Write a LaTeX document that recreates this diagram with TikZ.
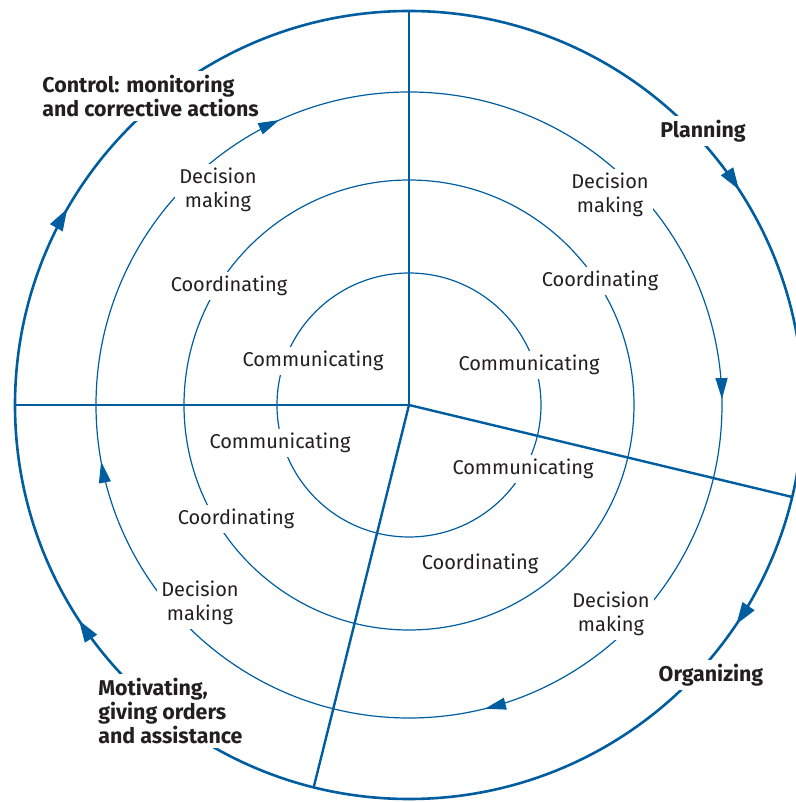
\documentclass[tikz,border=0pt]{standalone}
\usepackage{fontspec}
\setmainfont{Fira Sans}
\usepackage{xcolor}
\usepackage{tikz}
\usetikzlibrary{arrows.meta,decorations.markings}

\definecolor{ringblue}{RGB}{0,94,160}
\definecolor{inkgray}{RGB}{35,31,32}

\tikzset{
    ring/.style={draw=ringblue, line width=0.6pt},
    outerring/.style={draw=ringblue, line width=1.3pt},
    spoke/.style={draw=ringblue, line width=1.2pt},
    activity/.style={fill=white, inner sep=2pt, text=inkgray, align=center,
        font=\fontsize{10}{12}\selectfont},
    stage/.style={fill=white, inner sep=2pt, text=inkgray, align=left,
        font=\fontsize{10.7}{11.9}\selectfont\bfseries},
    bigtip/.tip={Triangle[length=11pt, width=7pt]},
    smalltip/.tip={Triangle[length=10.5pt, width=6pt]},
}

\begin{document}
\begin{tikzpicture}[x=0.5pt, y=0.5pt]
    \useasboundingbox (-409,-397) rectangle (387,405);

    % rings, arrows run clockwise
    \draw [outerring, postaction={decorate}, decoration={markings,
        mark=at position 0.092 with {\arrowreversed{bigtip}},
        mark=at position 0.417 with {\arrowreversed{bigtip}},
        mark=at position 0.592 with {\arrowreversed{bigtip}},
        mark=at position 0.906 with {\arrowreversed{bigtip}}}]
        (0,0) circle (394);
    \draw [ring, postaction={decorate}, decoration={markings,
        mark=at position 0.003 with {\arrowreversed{smalltip}},
        mark=at position 0.318 with {\arrowreversed{smalltip}},
        mark=at position 0.529 with {\arrowreversed{smalltip}},
        mark=at position 0.789 with {\arrowreversed{smalltip}}}]
        (0,0) circle (313);
    \draw [ring] (0,0) circle (225);
    \draw [ring] (0,0) circle (132);

    % spokes
    \coordinate (hub) at (0,0);
    \coordinate (north) at (90:394);
    \coordinate (west) at (180:394);
    \coordinate (east) at (-13.5:394);
    \coordinate (south) at (-104:394);
    \draw [spoke] (hub) -- (north);
    \draw [spoke] (hub) -- (west);
    \draw [spoke] (hub) -- (east);
    \draw [spoke] (hub) -- (south);

    % management functions
    \node [stage, anchor=west] (control) at (-371,309) {Control: monitoring\\and corrective actions};
    \node [stage] (planning) at (294,274) {Planning};
    \node [stage] (organizing) at (302,-270) {Organizing};
    \node [stage, anchor=west] (motivating) at (-315,-306) {Motivating,\\giving orders\\and assistance};

    % decision making ring
    \node [activity] (dm1) at (-191,215) {Decision\\making};
    \node [activity] (dm2) at (201,210) {Decision\\making};
    \node [activity] (dm3) at (202,-209) {Decision\\making};
    \node [activity] (dm4) at (-209,-198) {Decision\\making};

    % coordinating ring
    \node [activity] (co1) at (-180,119) {Coordinating};
    \node [activity] (co2) at (191,124) {Coordinating};
    \node [activity] (co3) at (-173,-114) {Coordinating};
    \node [activity] (co4) at (71,-159) {Coordinating};

    % communicating ring
    \node [activity] (cm1) at (-96,44) {Communicating};
    \node [activity] (cm2) at (120,40) {Communicating};
    \node [activity] (cm3) at (-129,-38) {Communicating};
    \node [activity] (cm4) at (114,-64) {Communicating};
\end{tikzpicture}
\end{document}
